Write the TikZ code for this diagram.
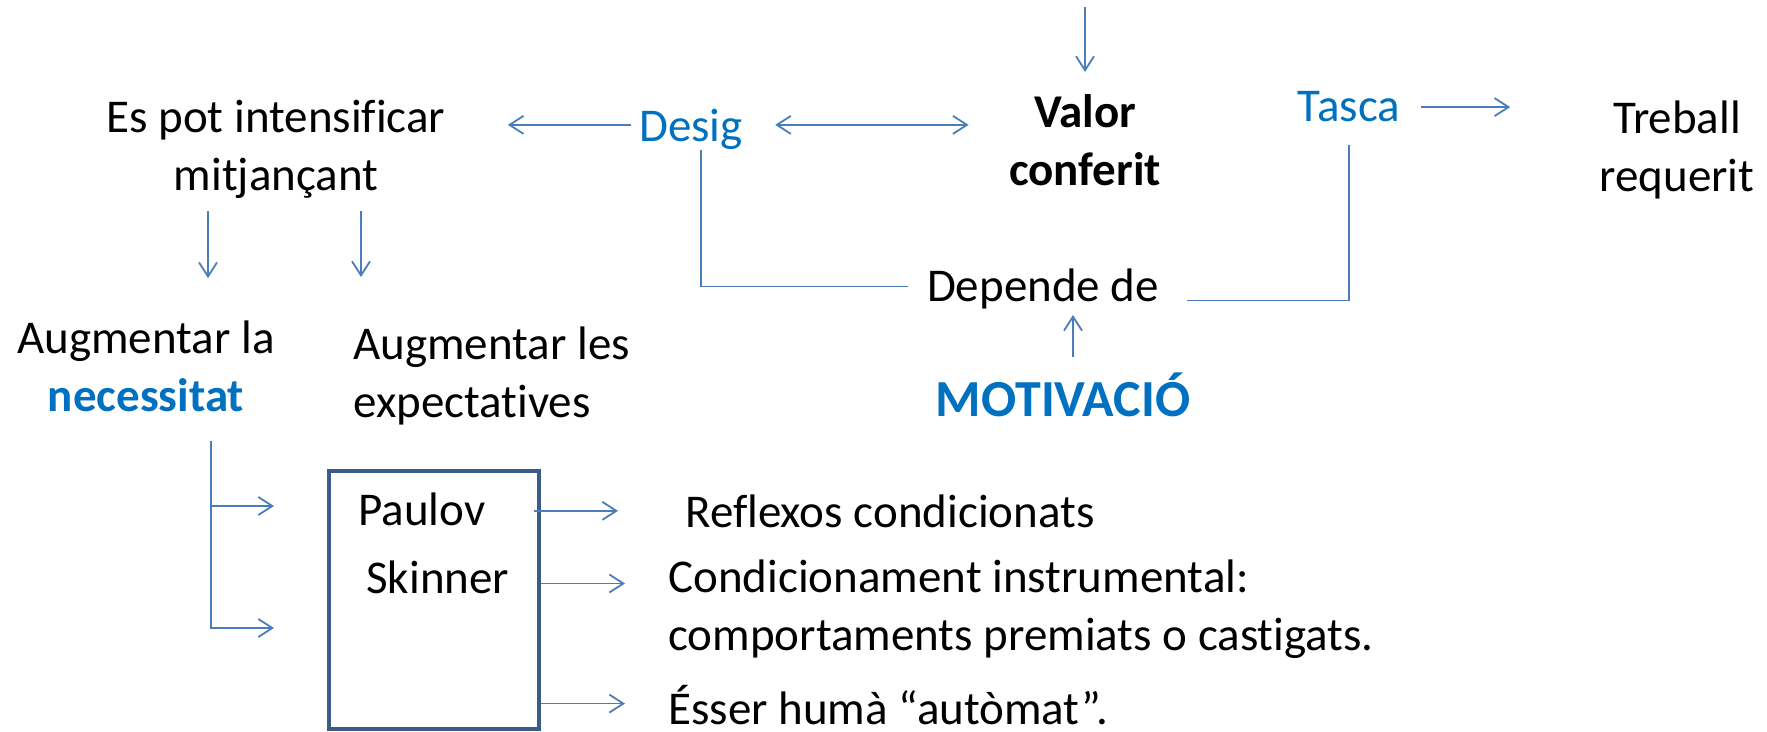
\documentclass[tikz,border=0pt]{standalone}
\usepackage{fontspec}
\setmainfont{Carlito}[Ligatures=NoCommon]
\usepackage{xcolor}
\usepackage{tikz}
\usetikzlibrary{arrows.meta,positioning,calc}
\definecolor{txtblue}{HTML}{0070C0}
\definecolor{lineblue}{HTML}{4A7EBB}
\definecolor{frameblue}{HTML}{385D8A}
\newcommand{\normtxt}{\fontsize{23.5}{29}\selectfont}

\begin{document}
\begin{tikzpicture}[x=0.5pt, y=-0.5pt, >={Straight Barb[length=7pt, width=9pt]}]
\tikzstyle{txt}=[inner sep=0pt, align=center, font=\normtxt]
\tikzstyle{key}=[txt, text=txtblue]
\tikzstyle{conn}=[draw=lineblue, line width=0.9pt]
\tikzstyle{arr}=[conn, ->]
\tikzstyle{frame}=[draw=frameblue, line width=2pt, minimum width=105pt, minimum height=129pt, inner sep=0pt]

\useasboundingbox (0,0) rectangle (1767,732);

% top row
\coordinate (topin) at (1085,7);
\node[txt] (espot) at (276,149.5) {Es pot intensificar\\mitjançant};
\node[key, anchor=base] (desig) at (691,142) {Desig};
\node[txt, font=\normtxt\bfseries] (valor) at (1085,140) {Valor\\conferit};
\node[key, anchor=base] (tasca) at (1349,122) {Tasca};
\node[txt] (treball) at (1677,149.5) {Treball\\requerit};
\node[txt, anchor=base] (depende) at (1043,302) {Depende de};
\node[key, anchor=base, font=\fontsize{26}{31}\selectfont\bfseries] (motiv) at (1063,417) {MOTIVACIÓ};

% lower part
\node[txt] (augla) at (146,366) {Augmentar la\\\textcolor{txtblue}{\bfseries necessitat}};
\node[txt, align=left, anchor=west] (augles) at (353,375.5) {Augmentar les\\expectatives};
\node[frame] (box) at (434,600) {};
\node[txt, anchor=base west] (paulov) at (358,525) {Paulov};
\node[txt, anchor=base west] (skinner) at (366,593) {Skinner};
\node[txt, anchor=base west] (reflex) at (685,527) {Reflexos condicionats};
\node[txt, align=left, anchor=west] (cond) at (668,609.5) {Condicionament instrumental:\\comportaments premiats o castigats.};
\node[txt, anchor=base west] (esser) at (668,724) {Ésser humà “autòmat”.};

% connectors
\draw[arr, shorten >=11pt] (topin) -- (valor.north);
\draw[arr, shorten <=4pt, shorten >=31pt] ([yshift=2.5pt]desig.west) -- ([yshift=2.5pt]desig.west -| espot.east);
\draw[arr, <->, shorten <=16pt, shorten >=20pt] ([yshift=2.5pt]desig.east) -- ([yshift=2.5pt]desig.east -| valor.west);
\draw[arr, shorten <=10.5pt, shorten >=44.5pt] (tasca.east) -- (tasca.east -| treball.west);
\draw[arr, shorten <=6pt, shorten >=21pt] ([xshift=-34pt]espot.south) -- ([xshift=-34pt]espot.south |- augla.north);
\draw[arr, shorten <=6pt, shorten >=24.5pt] ([xshift=42.5pt]espot.south) -- ([xshift=42.5pt]espot.south |- augles.north);
\draw[conn, shorten >=9.5pt] ([xshift=5pt]desig.south) |- ([yshift=1.5pt]depende.west);
\draw[conn, shorten <=11pt, shorten >=14pt] (tasca.south) |- ([yshift=-5.5pt]depende.east);
\draw[arr, shorten <=8pt, shorten >=2.5pt] ([xshift=5pt]motiv.north) -- ([xshift=5pt]motiv.north |- depende.south);

\draw[arr, shorten <=14.5pt, shorten >=26.5pt] ([xshift=32.5pt]augla.south) |- ([yshift=-18.5pt]box.north west);
\draw[arr, shorten <=14.5pt, shorten >=26.5pt] ([xshift=32.5pt]augla.south) |- ([yshift=-14pt]box.west);
\draw[arr, shorten <=-3.5pt, shorten >=33.5pt] (reflex.west -| box.east) -- (reflex.west);
\draw[arr, shorten >=21.5pt] ([yshift=13pt]cond.west -| box.east) -- ([yshift=13pt]cond.west);
\draw[arr, shorten >=21.5pt] ([yshift=0.5pt]esser.west -| box.east) -- ([yshift=0.5pt]esser.west);
\end{tikzpicture}
\end{document}
